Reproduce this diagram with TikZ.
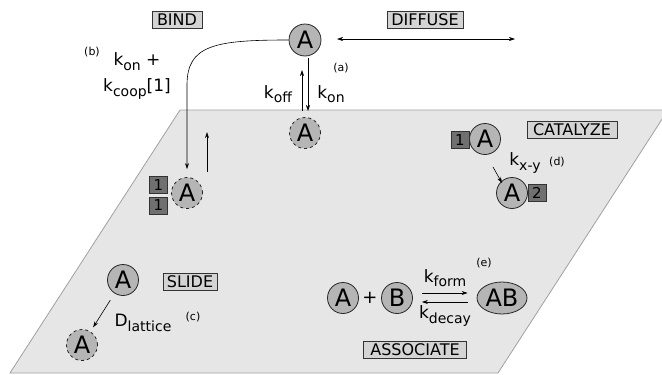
\documentclass[tikz,border=0pt]{standalone}
\usepackage{fontspec}
\setmainfont{DejaVu Sans}
\usetikzlibrary{arrows.meta,shapes.geometric,calc}
\definecolor{molgray}{HTML}{B5B5B5}
\definecolor{boxgray}{HTML}{D4D4D4}
\definecolor{numgray}{HTML}{707070}
\definecolor{planegray}{HTML}{E6E6E6}
\definecolor{planeedge}{HTML}{A0A0A0}
\newcommand\rsub[2]{#1\raisebox{-0.5ex}{\fontsize{14}{14}\selectfont #2}}
\begin{document}
\begin{tikzpicture}[x=1pt,y=-1pt,
 mol/.style={circle,draw=black!85,fill=molgray,line width=0.8pt,inner sep=0pt,minimum size=31pt,font=\fontsize{24}{24}\selectfont},
 dmol/.style={mol,dashed},
 lab/.style={draw=black!80,fill=boxgray,inner sep=0pt,minimum height=17pt,font=\fontsize{16}{16}\selectfont,line width=0.6pt},
 num/.style={draw=black!80,fill=numgray,inner sep=0pt,minimum width=18pt,minimum height=17pt,font=\fontsize{15}{15}\selectfont},
 tag/.style={font=\fontsize{11}{11}\selectfont,inner sep=0pt},
 rate/.style={font=\fontsize{17}{17}\selectfont,inner sep=0pt},
 arr/.style={-{Stealth[length=6pt,width=4pt]},line width=0.6pt}
]
\clip (0,0) rectangle (662,375);
% plane
\path[fill=planegray,draw=planeedge,line width=0.8pt] (180,110) coordinate (p1) -- (668,110) coordinate (p2) -- (498,373) coordinate (p3) -- (10,373) coordinate (p4) -- cycle;

% labels
\node[lab,minimum width=50pt] (bind) at (177,20) {BIND};
\node[lab,minimum width=76pt] (diffuse) at (425,20) {DIFFUSE};
\node[lab,minimum width=90pt] (catalyze) at (572,130) {CATALYZE};
\node[lab,minimum width=54pt] (slide) at (190,282) {SLIDE};
\node[lab,minimum width=103pt] (associate) at (415,350) {ASSOCIATE};

% top molecule, diffusion
\node[mol,minimum size=32pt] (Atop) at (305,40) {A};
\coordinate (dl) at (337,39);
\coordinate (dr) at (515,39);
\draw[{Stealth[length=6pt,width=4pt]}-{Stealth[length=6pt,width=4pt]},line width=0.6pt] (dl) -- (dr);
\node[tag] (ta) at (341,68) {(a)};

% membrane bound A (a)
\node[dmol] (Adash) at (305,133) {A};
\draw[arr] ([xshift=-3pt]Adash.north) ++(0,-6) coordinate (koffs) -- ([xshift=-3pt]Atop.south |- 0,70) coordinate (koffe);
\draw[arr] ([xshift=3pt]Atop.south) ++(0,2) coordinate (kons) -- ([xshift=3pt]Adash.north |- 0,111) coordinate (kone);
\node[rate] (koff) at (278,94) {\rsub{k}{off}};
\node[rate] (kon) at (331,94) {\rsub{k}{on}};

% cooperative binding (b)
\node[dmol] (Abound) at (187,193) {A};
\node[num] (n1) at (158.5,185) {1};
\node[num] (n2) at (158.5,205.5) {1};
\coordinate (bend) at (Abound.north |- 0,85);
\draw[arr] (Atop.west) .. controls (215,40) and ($(bend)+(0,-40)$) .. (bend) -- ([yshift=8pt]Abound.north);
\coordinate (ups) at ($(Abound.north)+(20,-5)$);
\coordinate (upe) at ($(Abound.north)+(20,-45)$);
\draw[arr] (ups) -- (upe);
\node[tag] (tb) at (92,52) {(b)};
\node[rate,align=center] (kcoop) at (137,76) {\rsub{k}{on} +\\[7pt]\rsub{k}{coop}[1]};

% catalyze (d)
\node[mol] (C1) at (485,139) {A};
\node[num] (c1) at (460,140) {1};
\node[mol] (C2) at (512,193) {A};
\node[num] (c2) at (537,193) {2};
\coordinate (cs) at ($(C1)+(8,28)$);
\coordinate (ce) at ($(C2)+(-10,-10)$);
\draw[arr] (cs) -- (ce);
\node[rate] (kxy) at (525,163) {\rsub{k}{x-y}};
\node[tag] (td) at (557,162) {(d)};

% slide (c)
\node[mol] (S1) at (123,280) {A};
\node[dmol] (S2) at (82,345) {A};
\draw[arr,shorten <=8pt,shorten >=5pt] (S1) -- (S2);
\node[rate] (dlat) at (143,323) {\rsub{D}{lattice}};
\node[tag] (tc) at (193,317) {(c)};

% associate (e)
\node[mol] (EA) at (343,298) {A};
\node[font=\fontsize{18}{18}\selectfont,inner sep=0pt] (plus) at (370,298) {+};
\node[mol] (EB) at (397,298) {B};
\node[ellipse,draw=black!85,fill=molgray,line width=0.8pt,inner sep=0pt,minimum width=50pt,minimum height=32pt,font=\fontsize{24}{24}\selectfont] (AB) at (502,298) {AB};
\draw[arr,shorten <=9pt,shorten >=9pt] ([yshift=5pt]EB.east) -- ([yshift=5pt]AB.west);
\draw[arr,shorten <=9pt,shorten >=9pt] ([yshift=-4pt]AB.west) -- ([yshift=-4pt]EB.east);
\node[rate] (kform) at (445,278) {\rsub{k}{form}};
\node[rate] (kdecay) at (445,316) {\rsub{k}{decay}};
\node[tag] (te) at (484,263) {(e)};
\end{tikzpicture}
\end{document}
